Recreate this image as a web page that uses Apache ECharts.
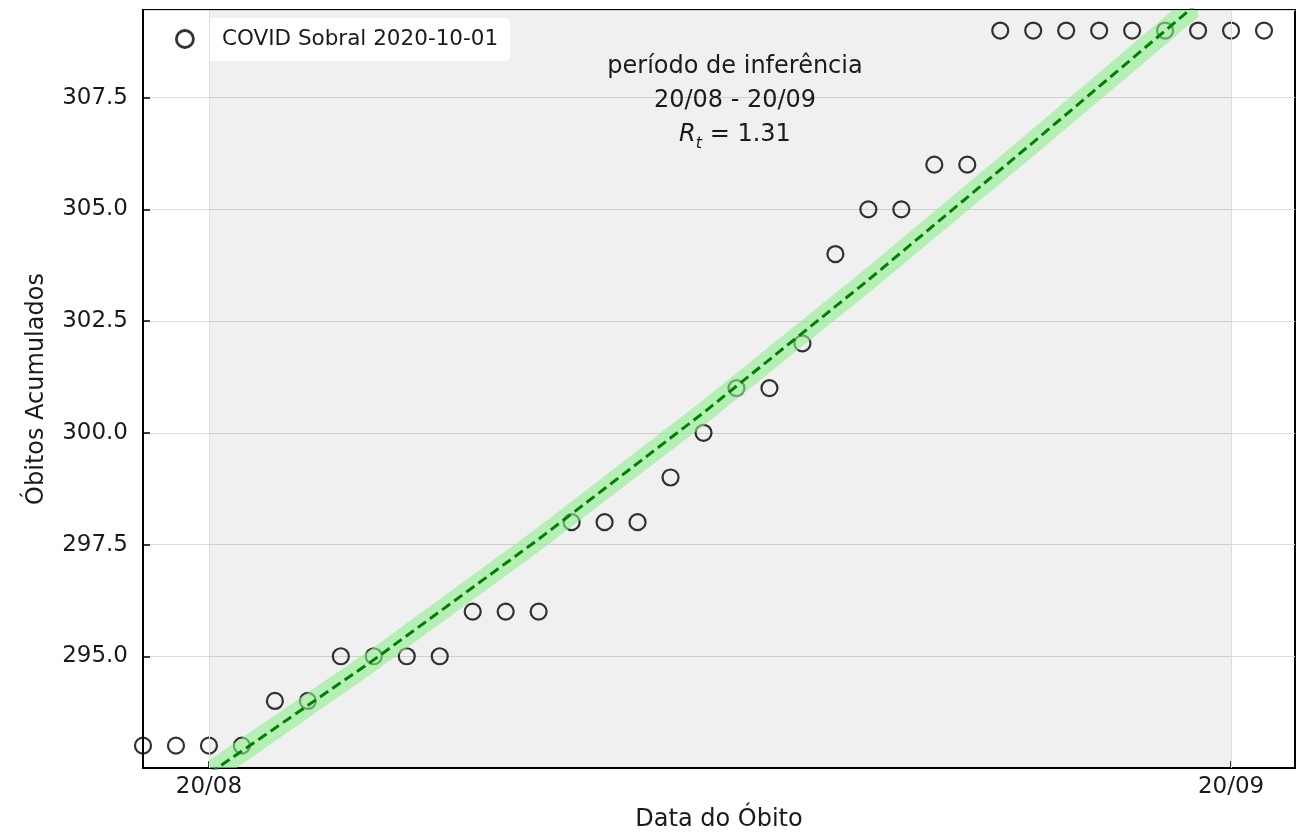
<!DOCTYPE html>
<html>
<head>
<meta charset="utf-8">
<title>COVID Sobral</title>
<script src="https://cdn.jsdelivr.net/npm/echarts@6/dist/echarts.min.js"></script>
<style>
  html, body { margin: 0; padding: 0; background: #fff; }
  #chart { width: 1306px; height: 837px; }
</style>
</head>
<body>
<div id="chart"></div>
<script>
// dias contados a partir de 20/08
const dias = [-2, -1, 0, 1, 2, 3, 4, 5, 6, 7, 8, 9, 10, 11, 12, 13, 14, 15, 16,
  17, 18, 19, 20, 21, 22, 23, 24, 25, 26, 27, 28, 29, 30, 31, 32]
const obitos = [293, 293, 293, 293, 294, 294, 295, 295, 295, 295, 296, 296, 296, 298,
  298, 298, 299, 300, 301, 301, 302, 304, 305, 305, 306, 306, 309, 309, 309,
  309, 309, 309, 309, 309, 309]

// curva ajustada e faixa de incerteza
const fitDias = [0, 5, 10, 15, 20, 25, 30]
const fitValores = [292.37, 294.92, 297.62, 300.45, 303.42, 306.5, 309.62]
const fitMeiaLargura = [0.3, 0.28, 0.28, 0.29, 0.3, 0.31, 0.32]

// ticks
const xTickDias = [0, 31]
const xTickLabels = ['20/08', '20/09']
const periodo = [0, 31]
const yTicks = [295, 297.5, 300, 302.5, 305, 307.5]

const textColor = '#1a1a1a'
const fontFamily = 'DejaVu Sans'

const option = {
  animation: false,
  textStyle: { fontFamily },
  grid: {
    left: 143,
    right: 11,
    top: 10,
    bottom: 69,
    show: true,
    backgroundColor: 'transparent',
    borderColor: '#000',
    borderWidth: 2
  },
  legend: {
    left: 165,
    top: 18,
    padding: [10, 12, 11, 10],
    backgroundColor: '#fff',
    borderRadius: 5,
    itemWidth: 50,
    itemHeight: 17,
    itemStyle: { color: 'rgba(0,0,0,0)', borderColor: '#000', borderWidth: 2.8 },
    textStyle: { fontSize: 21.5, color: textColor, fontFamily, padding: [0, 0, 0, 7] },
    data: ['COVID Sobral 2020-10-01']
  },
  xAxis: {
    type: 'value',
    min: -2,
    max: 32.94,
    name: 'Data do Óbito',
    nameLocation: 'middle',
    nameGap: 40,
    nameTextStyle: { fontSize: 24, color: textColor, fontFamily },
    axisLine: { onZero: false, lineStyle: { color: '#000', width: 2 } },
    axisTick: {
      inside: true,
      length: 7,
      customValues: xTickDias,
      lineStyle: { color: '#000', width: 1.5 }
    },
    axisLabel: {
      customValues: xTickDias,
      fontSize: 23,
      color: textColor,
      margin: 8,
      formatter: v => xTickLabels[xTickDias.indexOf(v)] || ''
    },
    splitLine: { show: false }
  },
  yAxis: {
    type: 'value',
    min: 292.5,
    max: 309.46,
    interval: 2.5,
    name: 'Óbitos Acumulados',
    nameLocation: 'middle',
    nameGap: 94,
    nameTextStyle: { fontSize: 24, color: textColor, fontFamily },
    axisLine: { show: true, onZero: false, lineStyle: { color: '#000', width: 2 } },
    axisTick: { inside: true, length: 7, lineStyle: { color: '#000', width: 1.5 } },
    axisLabel: {
      fontSize: 23,
      color: textColor,
      margin: 15,
      showMinLabel: false,
      showMaxLabel: false,
      formatter: v => (yTicks.indexOf(v) >= 0 ? v.toFixed(1) : '')
    },
    splitLine: { lineStyle: { color: '#dcdcdc', width: 1 } }
  },
  graphic: [{
    type: 'text',
    x: 735,
    y: 50,
    z: 10,
    style: {
      text: 'período de inferência\n20/08 - 20/09\n{r|R}{t|t}{eq| = 1.31}',
      align: 'center',
      verticalAlign: 'top',
      fontSize: 24,
      lineHeight: 34,
      fill: textColor,
      fontFamily,
      rich: {
        r: { fontSize: 24, fontStyle: 'italic', fontFamily, lineHeight: 34 },
        t: { fontSize: 16, fontStyle: 'italic', fontFamily, verticalAlign: 'bottom', lineHeight: 20 },
        eq: { fontSize: 24, fontFamily, lineHeight: 34 }
      }
    }
  }],
  series: [
    {
      name: 'COVID Sobral 2020-10-01',
      type: 'scatter',
      z: 2,
      symbol: 'circle',
      symbolSize: 16,
      itemStyle: { color: 'rgba(0,0,0,0)', borderColor: '#000', borderWidth: 2.2 },
      data: dias.map((d, i) => [d, obitos[i]]),
      markArea: {
        silent: true,
        itemStyle: { color: 'rgba(0,0,0,0.06)' },
        data: [[{ xAxis: periodo[0] }, { xAxis: periodo[1] }]]
      },
      markLine: {
        silent: true,
        symbol: 'none',
        label: { show: false },
        lineStyle: { color: '#dcdcdc', width: 1, type: 'solid' },
        data: xTickDias.map(d => ({ xAxis: d }))
      }
    },
    {
      name: 'faixa',
      type: 'custom',
      z: 3,
      clip: true,
      silent: true,
      data: [[fitDias[0], fitValores[0]]],
      renderItem (params, api) {
        const cima = fitDias.map((d, i) => api.coord([d, fitValores[i] + fitMeiaLargura[i]]))
        const baixo = fitDias.map((d, i) => api.coord([d, fitValores[i] - fitMeiaLargura[i]])).reverse()
        return {
          type: 'polygon',
          shape: { points: cima.concat(baixo) },
          style: { fill: 'rgba(144,238,144,0.6)' }
        }
      }
    },
    {
      name: 'ajuste',
      type: 'line',
      z: 4,
      symbol: 'none',
      lineStyle: { color: '#008000', width: 3, type: [10, 5] },
      data: fitDias.map((d, i) => [d, fitValores[i]])
    }
  ]
}

const myChart = echarts.init(document.getElementById('chart'))
myChart.setOption(option)
</script>
</body>
</html>
